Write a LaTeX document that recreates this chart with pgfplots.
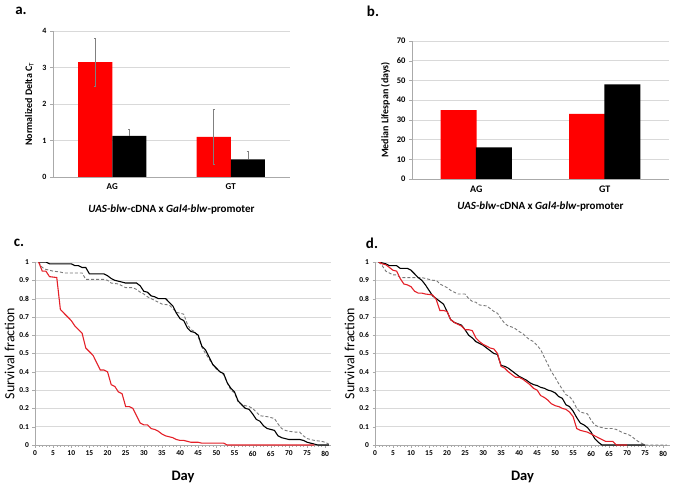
\documentclass[border=0pt]{standalone}
\usepackage{pgfplots}
\pgfplotsset{compat=1.18}
\usepackage{fontspec}
\setmainfont{Carlito}
\definecolor{gridc}{RGB}{217,217,217}
\definecolor{axc}{RGB}{170,170,170}
\definecolor{redl}{RGB}{228,32,40}
\definecolor{dashc}{RGB}{120,120,120}
\pgfplotsset{
  base/.style={
    scale only axis,
    anchor=south west,
    axis x line*=bottom, axis y line*=left,
    x axis line style={-, draw=axc},
    y axis line style={-, draw=axc},
    ymajorgrids, grid style={gridc, line width=0.7pt},
    tick style={axc},
    tick align=outside,
    /pgf/number format/assume math mode=true,
    ticklabel style={font=\bfseries\fontsize{8}{9}\selectfont},
    ylabel style={font=\bfseries\fontsize{10}{11}\selectfont},
    xlabel style={font=\bfseries\fontsize{11}{12}\selectfont},
  },
  surv/.style={
    base,
    xmin=0, ymin=0, ymax=1,
    width=296pt, height=183pt,
    xtick={0,5,...,80},
    minor x tick num=4,
    ytick={0,0.1,...,1.01},
    major tick length=2.5pt, minor tick length=1.5pt,
    ticklabel style={font=\bfseries\fontsize{7.5}{8}\selectfont},
    yticklabel style={/pgf/number format/fixed},
    ylabel={Survival fraction},
    xlabel={Day},
    ylabel style={font=\fontsize{14}{15}\selectfont, yshift=-2pt},
    xlabel style={font=\bfseries\fontsize{14.5}{15}\selectfont, yshift=-8pt},
  },
  errb/.style={draw=none, mark=none,
    error bars/.cd, y dir=#1, y explicit,
    error bar style={draw=gray, line width=0.5pt},
    error mark options={draw=gray, rotate=90, mark size=1.2pt}},
}
\begin{document}
\begin{tikzpicture}[x=1pt,y=1pt]
\path[use as bounding box] (0,0) rectangle (675,-486);

% ---------- panel a ----------
\begin{axis}[base,
  at={(53pt,-177pt)}, width=237pt, height=146pt,
  xmin=0.5, xmax=2.5, ymin=0, ymax=4,
  xtick={1,2}, xticklabels={AG,GT}, major x tick style={draw=none},
  xticklabel style={font=\bfseries\fontsize{9}{10}\selectfont},
  extra x ticks={0.5,1.5,2.5}, extra x tick labels={},
  extra x tick style={major tick length=3pt, tick style={axc}},
  ytick={0,1,2,3,4}, major tick length=3pt,
  ylabel={Normalized Delta C$_{\mathrm{T}}$},
  ylabel style={yshift=2pt},
  xlabel={\textit{UAS-blw}-cDNA x \textit{Gal4-blw}-promoter},
  xlabel style={yshift=-2pt},
]
\addplot[ybar, bar width=0.287, bar shift=-0.1435, fill=red, draw=none]
  coordinates {(1,3.15) (2,1.10)};
\addplot[ybar, bar width=0.287, bar shift=0.1435, fill=black, draw=none]
  coordinates {(1,1.13) (2,0.48)};
\addplot[errb=both] coordinates {(0.8565,3.15) +- (0,0.65) (1.8565,1.10) +- (0,0.75)};
\addplot[errb=plus] coordinates {(1.1435,1.13) +- (0,0.17) (2.1435,0.48) +- (0,0.22)};
\end{axis}

% ---------- panel b ----------
\begin{axis}[base,
  at={(412pt,-179pt)}, width=257pt, height=138pt,
  xmin=0.5, xmax=2.5, ymin=0, ymax=70,
  xtick={1,2}, xticklabels={AG,GT}, major x tick style={draw=none},
  extra x ticks={0.5,1.5,2.5}, extra x tick labels={},
  extra x tick style={major tick length=3pt, tick style={axc}},
  ytick={0,10,...,70}, major tick length=3pt,
  ticklabel style={font=\bfseries\fontsize{8.5}{9}\selectfont},
  xticklabel style={font=\bfseries\fontsize{10}{11}\selectfont},
  ylabel={Median Lifespan (days)},
  xlabel={\textit{UAS-blw}-cDNA x \textit{Gal4-blw}-promoter},
  xlabel style={yshift=3pt},
]
\addplot[ybar, bar width=0.28, bar shift=-0.137, fill=red, draw=none]
  coordinates {(1,35) (2,33)};
\addplot[ybar, bar width=0.28, bar shift=0.137, fill=black, draw=none]
  coordinates {(1,16) (2,48)};
\end{axis}

% ---------- panel c ----------
\begin{axis}[surv, at={(35pt,-445pt)}, xmax=81.6]
\addplot[dashc, densely dashed, line width=0.9pt] coordinates {
(1,1.0) (2,0.97) (3,0.96) (5,0.95) (7,0.945) (8,0.94) (13,0.94) (14,0.905)
(19,0.905) (20,0.90) (21,0.885) (23,0.88) (24,0.87) (25,0.86) (27,0.86)
(28,0.85) (29,0.835) (30,0.825) (31,0.81) (32,0.80) (33,0.79) (34,0.78)
(35,0.77) (37,0.765) (38,0.745) (39,0.725) (40,0.72) (41,0.715) (42,0.66)
(43,0.63) (44,0.62) (45,0.59) (46,0.535) (47,0.50) (48,0.47) (49,0.44)
(50,0.415) (51,0.40) (52,0.385) (53,0.34) (54,0.30) (55,0.285) (56,0.235)
(57,0.22) (58,0.215) (59,0.21) (60,0.20) (61,0.18) (62,0.16) (64,0.155)
(65,0.15) (66,0.145) (67,0.115) (68,0.09) (69,0.08) (70,0.075) (72,0.07)
(73,0.07) (74,0.05) (75,0.035) (76,0.03) (77,0.025) (79,0.02) (80,0.015) (81,0.005)};
\addplot[black, line width=1.1pt] coordinates {
(1,1.0) (3,1.0) (4,0.99) (10,0.99) (11,0.98) (12,0.98) (13,0.97) (14,0.97)
(15,0.935) (19,0.935) (20,0.925) (21,0.91) (22,0.90) (23,0.895) (24,0.89)
(25,0.885) (28,0.885) (29,0.87) (30,0.84) (31,0.835) (32,0.815) (33,0.81)
(34,0.80) (36,0.80) (37,0.78) (38,0.76) (39,0.72) (40,0.69) (41,0.68)
(42,0.64) (43,0.62) (44,0.615) (45,0.60) (46,0.54) (47,0.52) (48,0.48)
(49,0.44) (50,0.42) (51,0.40) (52,0.39) (53,0.34) (54,0.31) (55,0.29)
(56,0.24) (57,0.22) (58,0.20) (59,0.195) (60,0.17) (61,0.14) (62,0.13)
(63,0.105) (64,0.09) (65,0.085) (66,0.08) (67,0.05) (68,0.04) (69,0.035)
(70,0.03) (73,0.03) (74,0.025) (75,0.015) (76,0.01) (77,0.005) (78,0) (81,0)};
\addplot[redl, line width=1.1pt] coordinates {
(1,1.0) (2,0.95) (3,0.95) (4,0.92) (6,0.915) (7,0.74) (8,0.72) (9,0.70)
(10,0.68) (11,0.65) (12,0.63) (13,0.61) (14,0.53) (15,0.51) (16,0.49)
(17,0.45) (18,0.41) (19,0.41) (20,0.40) (21,0.33) (22,0.32) (23,0.29)
(24,0.28) (25,0.21) (26,0.21) (27,0.20) (28,0.16) (29,0.12) (30,0.11)
(31,0.11) (32,0.09) (33,0.085) (34,0.075) (35,0.06) (36,0.05) (37,0.045)
(38,0.04) (39,0.03) (40,0.025) (41,0.025) (42,0.02) (43,0.015) (45,0.015)
(46,0.01) (52,0.01) (53,0) (77,0)};
\end{axis}

% ---------- panel d ----------
\begin{axis}[surv, at={(375pt,-445pt)}, width=295pt, xmax=81.9]
\addplot[dashc, densely dashed, line width=0.9pt] coordinates {
(1,1.0) (2,0.98) (3,0.95) (4,0.94) (5,0.93) (6,0.93) (7,0.915) (13,0.915)
(14,0.91) (15,0.905) (16,0.90) (17,0.90) (18,0.88) (19,0.87) (20,0.86)
(21,0.845) (22,0.835) (23,0.825) (25,0.825) (26,0.80) (27,0.785) (28,0.78)
(29,0.765) (31,0.76) (32,0.745) (33,0.73) (34,0.72) (35,0.69) (36,0.665)
(37,0.65) (38,0.645) (39,0.635) (40,0.62) (41,0.61) (42,0.59) (43,0.575)
(44,0.565) (45,0.545) (46,0.52) (47,0.48) (48,0.44) (49,0.40) (50,0.37)
(51,0.335) (52,0.305) (53,0.275) (54,0.265) (55,0.24) (56,0.20) (57,0.18)
(58,0.175) (59,0.17) (60,0.135) (61,0.11) (62,0.10) (63,0.095) (64,0.09)
(66,0.09) (67,0.085) (68,0.075) (69,0.065) (70,0.06) (71,0.05) (72,0.035)
(73,0.02) (74,0.01) (75,0) (81,0)};
\addplot[black, line width=1.1pt] coordinates {
(1,1.0) (2,0.995) (3,0.99) (4,0.98) (6,0.98) (7,0.965) (9,0.965) (10,0.955)
(11,0.935) (12,0.915) (13,0.90) (14,0.875) (15,0.845) (16,0.815) (17,0.80)
(18,0.785) (19,0.77) (20,0.73) (21,0.685) (22,0.67) (24,0.655) (25,0.63)
(26,0.60) (27,0.585) (28,0.565) (29,0.555) (30,0.545) (31,0.53) (32,0.515)
(33,0.50) (34,0.495) (35,0.435) (36,0.43) (37,0.42) (38,0.405) (39,0.39)
(40,0.375) (41,0.365) (42,0.355) (43,0.34) (44,0.33) (45,0.325) (46,0.315)
(47,0.31) (48,0.30) (49,0.295) (50,0.285) (51,0.265) (52,0.255) (53,0.22)
(54,0.21) (55,0.185) (56,0.15) (57,0.12) (58,0.11) (59,0.095) (60,0.07)
(61,0.035) (62,0.015) (63,0) (75,0)};
\addplot[redl, line width=1.1pt] coordinates {
(1,1.0) (2,0.99) (3,0.985) (4,0.97) (5,0.955) (6,0.95) (7,0.91) (8,0.88)
(9,0.875) (10,0.865) (11,0.84) (12,0.83) (13,0.83) (14,0.825) (16,0.82)
(17,0.795) (18,0.735) (19,0.735) (20,0.73) (21,0.685) (22,0.67) (23,0.66)
(24,0.65) (25,0.63) (26,0.63) (27,0.625) (28,0.585) (29,0.565) (30,0.55)
(31,0.54) (32,0.53) (33,0.525) (34,0.50) (35,0.43) (36,0.42) (37,0.40)
(38,0.385) (39,0.37) (40,0.37) (41,0.36) (42,0.345) (43,0.33) (44,0.31)
(45,0.30) (46,0.27) (47,0.26) (48,0.245) (49,0.225) (50,0.215) (51,0.21)
(52,0.20) (53,0.195) (54,0.18) (55,0.155) (56,0.09) (57,0.08) (58,0.075)
(59,0.07) (60,0.06) (61,0.05) (62,0.04) (63,0.03) (64,0.02) (66,0.02)
(67,0) (70,0)};
\end{axis}

% panel letters
\node[font=\bfseries\fontsize{15}{15}\selectfont] at (21,-11) {a.};
\node[font=\bfseries\fontsize{15}{15}\selectfont] at (373,-11) {b.};
\node[font=\bfseries\fontsize{15}{15}\selectfont] at (19,-243) {c.};
\node[font=\bfseries\fontsize{15}{15}\selectfont] at (372,-243) {d.};
\end{tikzpicture}
\end{document}
